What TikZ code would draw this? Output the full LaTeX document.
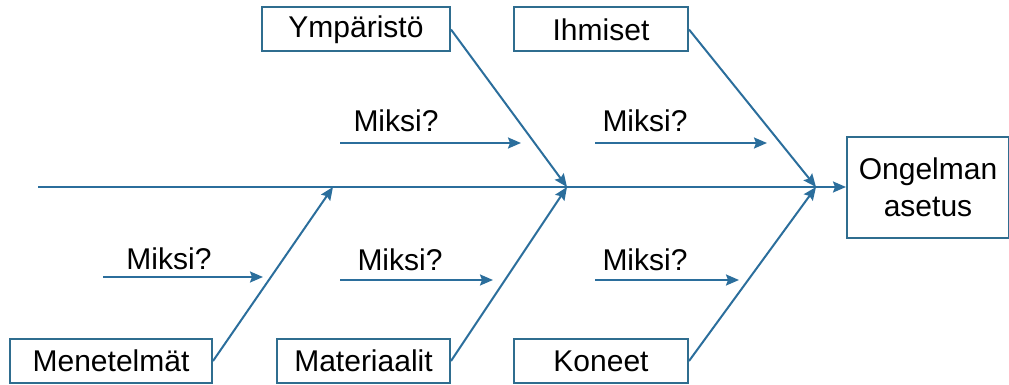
\documentclass[tikz,border=0pt]{standalone}
\usepackage{fontspec}
\setmainfont{Liberation Sans}
\usetikzlibrary{arrows.meta}
\definecolor{bone}{HTML}{2B6E9C}
\definecolor{frame}{HTML}{2F6D8F}
\tikzset{
  cause/.style={draw=frame, line width=2pt, rectangle, inner sep=0pt,
    minimum height=44pt, font=\fontsize{30}{36}\selectfont, text=black},
  arr/.style={draw=bone, line width=2pt,
    -{Stealth[length=13pt,width=11pt,inset=2pt]}},
  why/.style={font=\fontsize{30}{36}\selectfont, text=black, inner sep=0pt}
}
\begin{document}
\begin{tikzpicture}[x=1pt,y=-1pt]
\useasboundingbox (0,0) rectangle (1009,385);

% cause boxes
\node[cause, minimum width=188pt] (env) at (356,29.5) {Ympäristö};
\node[cause, minimum width=174pt] (ppl) at (601,29.5) {Ihmiset};
\node[cause, minimum width=202pt] (met) at (111,361) {Menetelmät};
\node[cause, minimum width=173pt] (mat) at (363.5,361) {Materiaalit};
\node[cause, minimum width=174pt] (mac) at (601,361) {Koneet};

% effect box
\node[draw=frame, line width=2pt, rectangle, inner sep=0pt,
  minimum width=162pt, minimum height=100pt, align=center,
  font=\fontsize{30}{37}\selectfont] (eff) at (928,187.5) {Ongelman\\asetus};

% spine and junctions
\coordinate (tail) at (38,187);
\coordinate (j0) at (333,187);
\coordinate (j1) at (567,187);
\coordinate (j2) at (816,187);
\draw[arr] (tail) -- (eff.west |- tail);

% main bones
\draw[arr] (env.east) -- (j1);
\draw[arr] (ppl.east) -- (j2);
\draw[arr] (met.east) -- (j0);
\draw[arr] (mat.east) -- (j1);
\draw[arr] (mac.east) -- (j2);

% "Miksi?" sub-bones
\node[why] (w1) at (396,121) {Miksi?};
\coordinate (w1a) at (340,143); \coordinate (w1b) at (521,143);
\draw[arr] (w1a) -- (w1b);

\node[why] (w2) at (645,121) {Miksi?};
\coordinate (w2a) at (595,143); \coordinate (w2b) at (767,143);
\draw[arr] (w2a) -- (w2b);

\node[why] (w3) at (169,259) {Miksi?};
\coordinate (w3a) at (103,277); \coordinate (w3b) at (263,277);
\draw[arr] (w3a) -- (w3b);

\node[why] (w4) at (400,260) {Miksi?};
\coordinate (w4a) at (340,280); \coordinate (w4b) at (493,280);
\draw[arr] (w4a) -- (w4b);

\node[why] (w5) at (645,260) {Miksi?};
\coordinate (w5a) at (595,280); \coordinate (w5b) at (739,280);
\draw[arr] (w5a) -- (w5b);
\end{tikzpicture}
\end{document}
